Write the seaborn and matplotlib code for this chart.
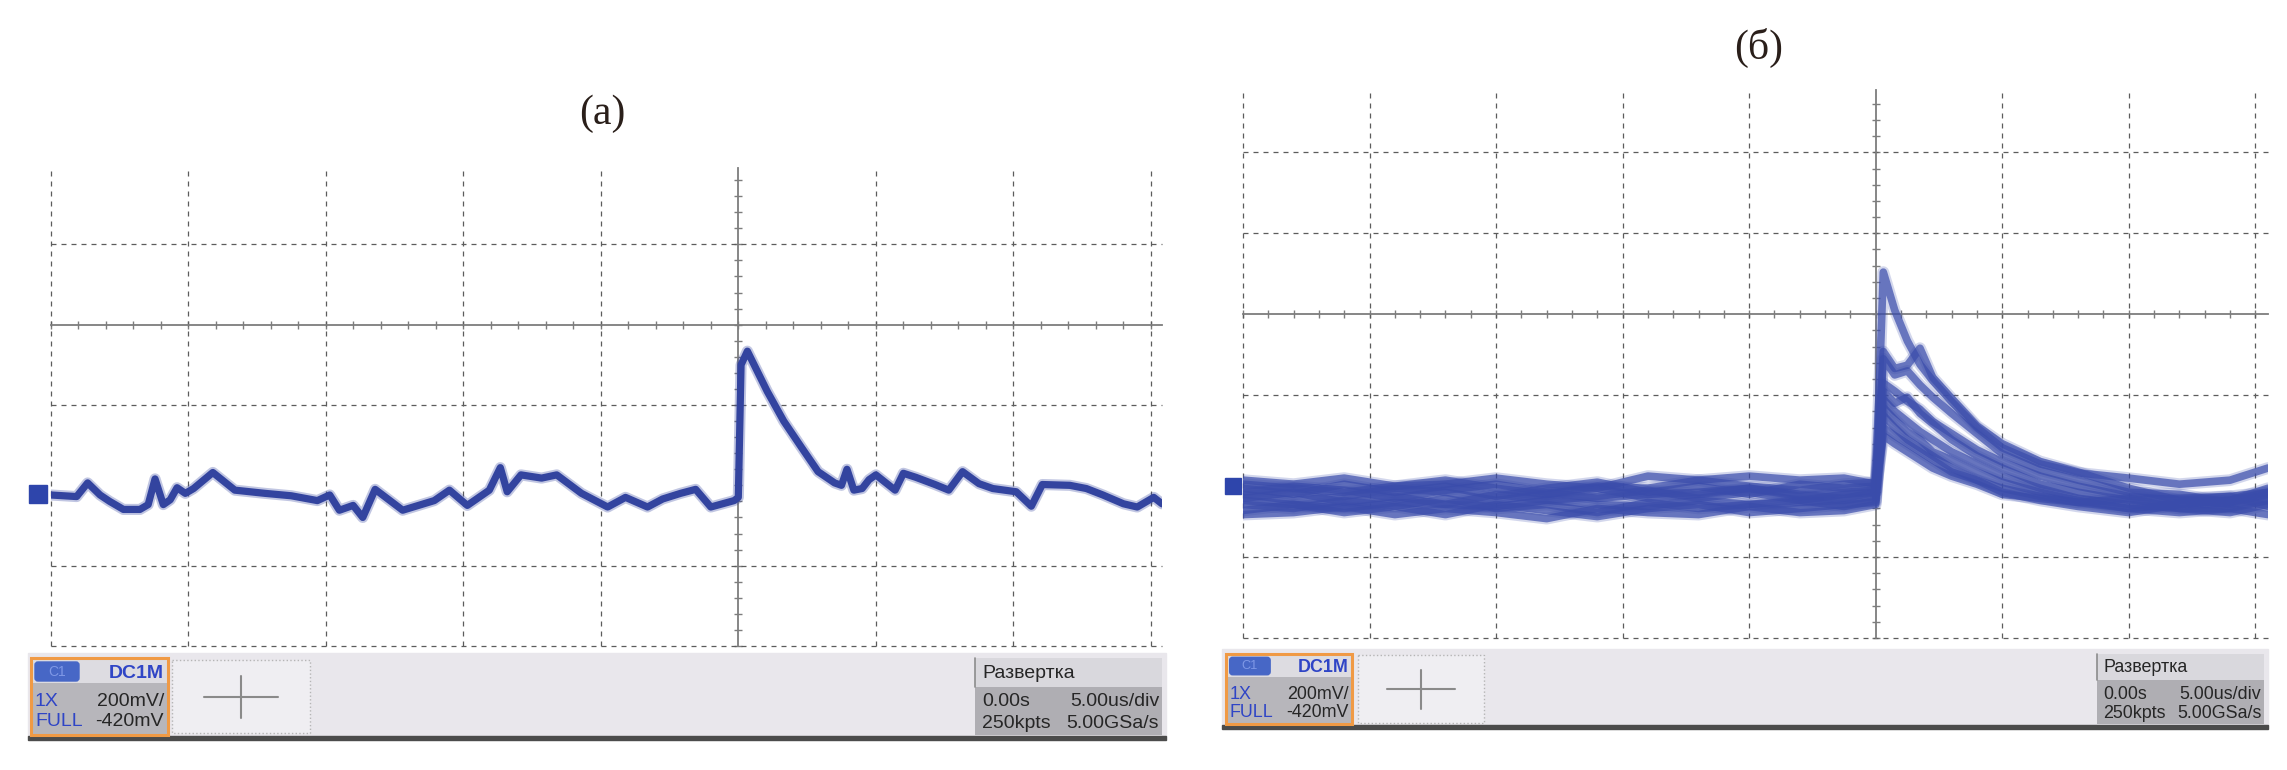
import numpy as np
import pandas as pd
import matplotlib.pyplot as plt
import seaborn as sns
from matplotlib.ticker import MultipleLocator
from matplotlib.patches import Rectangle, FancyBboxPatch

# Oscilloscope captures, 5 us/div, 200 mV/div, trigger at t = 0
# (a) single sweep: time in us, voltage in mV (relative to screen centre)
t_a = [-25.0, -24.05, -23.65, -23.2, -22.85, -22.35, -21.75, -21.45, -21.2, -20.9,
       -20.65, -20.4, -20.1, -19.8, -19.1, -18.3, -17.2, -16.25, -15.3, -14.85,
       -14.5, -14.0, -13.65, -13.2, -12.2, -11.05, -10.5, -9.85, -9.05, -8.65,
       -8.4, -7.9, -7.15, -6.6, -5.7, -4.75, -4.1, -3.3, -2.75, -2.1,
       -1.55, -1.0, -0.15, 0.0, 0.1, 0.33, 1.05, 1.65, 2.3, 2.9,
       3.5, 3.75, 3.95, 4.2, 4.5, 4.75, 5.0, 5.7, 6.0, 6.45,
       7.15, 7.65, 8.15, 8.75, 9.25, 10.1, 10.65, 11.05, 12.05, 12.65,
       13.25, 14.0, 14.5, 15.1, 15.4]
v_a = [-424, -428, -394, -424, -440, -460, -460, -448, -384, -448,
       -436, -406, -420, -408, -368, -412, -420, -426, -438, -424,
       -462, -450, -480, -410, -462, -438, -412, -450, -412, -356,
       -416, -374, -382, -374, -420, -454, -430, -454, -434, -420,
       -410, -454, -438, -430, -100, -66, -166, -240, -306, -366,
       -394, -400, -360, -412, -408, -386, -374, -412, -370, -380,
       -398, -412, -366, -396, -408, -416, -452, -398, -400, -408,
       -424, -446, -454, -430, -446]

# (б) ten overlaid sweeps on a common time base
t_b = [-25, -23, -21, -19, -17, -15, -13, -11, -9, -7, -5, -3, -1.25, 0.0,
       0.3, 0.75, 1.25, 1.75, 2.25, 3.0, 4.0, 5.0, 6.5, 8.0, 10.0, 12.0, 14.0, 15.5]
b_sweeps = [
    [-430, -445, -420, -440, -425, -450, -430, -415, -440, -425, -445, -420, -430, -425,
     104, 10, -66, -124, -164, -216, -280, -330, -370, -392, -405, -420, -410, -380],
    [-455, -440, -465, -450, -470, -445, -460, -450, -435, -455, -440, -460, -445, -440,
     -92, -134, -126, -84, -156, -208, -276, -320, -364, -390, -430, -460, -450, -440],
    [-470, -480, -460, -475, -455, -480, -470, -490, -465, -480, -470, -460, -475, -460,
     -110, -150, -140, -175, -205, -245, -295, -345, -385, -410, -440, -445, -465, -445],
    [-420, -430, -440, -425, -410, -430, -445, -425, -430, -410, -425, -435, -420, -415,
     -170, -190, -215, -235, -265, -295, -335, -365, -400, -425, -450, -460, -470, -455],
    [-485, -470, -490, -475, -495, -470, -485, -500, -480, -470, -490, -480, -470, -465,
     -190, -220, -205, -245, -270, -310, -350, -380, -420, -440, -460, -455, -450, -475],
    [-445, -460, -450, -430, -440, -460, -445, -430, -455, -445, -430, -445, -455, -440,
     -210, -240, -265, -290, -310, -340, -370, -400, -430, -455, -470, -480, -480, -495],
    [-495, -490, -475, -495, -480, -490, -505, -480, -490, -495, -475, -490, -485, -470,
     -230, -260, -290, -310, -340, -360, -390, -415, -440, -460, -480, -470, -460, -440],
    [-410, -420, -405, -425, -420, -405, -420, -430, -400, -410, -400, -410, -405, -420,
     -250, -280, -310, -330, -350, -380, -410, -430, -450, -465, -455, -480, -490, -470],
    [-460, -470, -480, -465, -470, -475, -460, -470, -475, -460, -470, -465, -460, -450,
     -280, -300, -320, -340, -360, -390, -410, -440, -460, -475, -490, -470, -460, -430],
    [-440, -425, -435, -455, -435, -420, -440, -455, -445, -440, -430, -450, -440, -435,
     -300, -320, -340, -360, -380, -400, -420, -445, -455, -465, -480, -490, -480, -460],
]

W, H = 2287, 770
TRACE = '#33449f'
GRID = '#5c5c5c'
AXC = '#7d7d7d'

sns.set_theme(style='white')
plt.rcParams['font.family'] = ['DejaVu Sans']

fig = plt.figure(figsize=(W / 100, H / 100), dpi=100)
fig.patch.set_facecolor('white')


def px_axes(x0, y0, x1, y1):
    # axes placed by pixel box (top-left origin)
    return fig.add_axes([x0 / W, (H - y1) / H, (x1 - x0) / W, (y1 - y0) / H])


def scope_grid(ax, xlim, ylim, hlines):
    ax.set_xlim(*xlim)
    ax.set_ylim(*ylim)
    ax.set_facecolor('none')
    for x in range(-25, 16, 5):
        if x != 0:
            ax.axvline(x, color=GRID, lw=0.9, ls=(0, (4, 4)), clip_on=False, zorder=1)
    for y in hlines:
        ax.axhline(y, color=GRID, lw=0.9, ls=(0, (4, 4)), clip_on=False, zorder=1)
    for side in ['top', 'right']:
        ax.spines[side].set_visible(False)
    for side in ['left', 'bottom']:
        ax.spines[side].set_position(('data', 0))
        ax.spines[side].set_color(AXC)
        ax.spines[side].set_linewidth(1.3)
        ax.spines[side].set_zorder(1.5)
    ax.xaxis.set_major_locator(MultipleLocator(5))
    ax.xaxis.set_minor_locator(MultipleLocator(1))
    ax.yaxis.set_major_locator(MultipleLocator(200))
    ax.yaxis.set_minor_locator(MultipleLocator(40))
    ax.tick_params(which='both', direction='inout', length=6, width=1, color=AXC,
                   bottom=True, left=True, top=False, right=False,
                   labelbottom=False, labelleft=False)
    ax.set_xlabel('')
    ax.set_ylabel('')


# ---- panel (a)
ax_a = px_axes(50.5, 168, 1162, 646)
sns.lineplot(x=t_a, y=v_a, sort=False, estimator=None, color=TRACE, lw=8,
             alpha=0.3, ax=ax_a, zorder=3)
sns.lineplot(x=t_a, y=v_a, sort=False, estimator=None, color=TRACE, lw=5.2,
             ax=ax_a, zorder=4)
scope_grid(ax_a, (-25, 15.4), (-800, 390), [-800, -600, -200, 200])
ax_a.plot([-25.47], [-422], marker='s', ms=13.5, color='#2e45ab', clip_on=False, zorder=5)

# ---- panel (б)
df_b = pd.DataFrame([(i, t, v) for i, s in enumerate(b_sweeps) for t, v in zip(t_b, s)],
                    columns=['sweep', 't', 'v'])
ax_b = px_axes(1243, 90, 2268, 638)
sns.lineplot(data=df_b, x='t', y='v', units='sweep', estimator=None, sort=False,
             color='#3a4cab', lw=8.5, alpha=0.22, ax=ax_b, zorder=3)
sns.lineplot(data=df_b, x='t', y='v', units='sweep', estimator=None, sort=False,
             color='#3a4cab', lw=5.5, alpha=0.7, ax=ax_b, zorder=4)
scope_grid(ax_b, (-25, 15.5), (-800, 554), [-800, -600, -200, 200, 400])
ax_b.plot([-25.4], [-424], marker='s', ms=11.5, color='#2e45ab', clip_on=False, zorder=5)

# ---- titles
fig.text(602 / W, 1 - 114 / H, '(a)', ha='center', va='center', fontsize=30,
         family=['Liberation Serif', 'DejaVu Serif'], color='#2a1f1a')
fig.text(1759 / W, 1 - 48 / H, '(б)', ha='center', va='center', fontsize=30,
         family=['Liberation Serif', 'DejaVu Serif'], color='#2a1f1a')

# ---- status bars (drawn in pixel coords on an overlay)
ov = fig.add_axes([0, 0, 1, 1])
ov.set_xlim(0, W)
ov.set_ylim(H, 0)
ov.axis('off')
ov.patch.set_visible(False)

NARROW = ['Liberation Sans', 'DejaVu Sans']
BLUE_TXT = '#2f45c6'
DARK_TXT = '#262626'


def status_bar(bx0, bx1, top, ob, cb, rb, s):
    # bx0..bx1 bar extent, ob/cb/rb = (x0, x1) of orange box, crosshair box, right box
    bot = top + 83 * s
    fs = 14 * s
    ov.add_patch(Rectangle((bx0, top), bx1 - bx0, bot - top, color='#e9e7ec', zorder=1))
    ov.add_patch(Rectangle((bx0, bot), bx1 - bx0, 4, color='#4b4b4b', zorder=2))
    y0 = top + 5 * s
    h = 77 * s
    # channel box
    x0, x1 = ob
    ov.add_patch(Rectangle((x0, y0), x1 - x0, h, facecolor='#b7b6bb', edgecolor='none', zorder=2))
    ov.add_patch(Rectangle((x0, y0), x1 - x0, 25 * s, facecolor='#dddce1', edgecolor='none', zorder=2))
    ov.add_patch(Rectangle((x0, y0), x1 - x0, h, facecolor='none', edgecolor='#f09a45', lw=2.2, zorder=4))
    ov.add_patch(FancyBboxPatch((x0 + 4 * s, y0 + 4 * s), 44 * s, 19 * s,
                                boxstyle='round,pad=0,rounding_size=3', color='#4767c6', zorder=3))
    ov.text(x0 + 26 * s, y0 + 14 * s, 'C1', color='#7f98e6', fontsize=10 * s, ha='center',
            va='center', family=NARROW, zorder=5)
    ov.text(x1 - 4 * s, y0 + 15 * s, 'DC1M', color=BLUE_TXT, fontsize=fs, ha='right',
            va='center', family=NARROW, weight='bold', zorder=5)
    ov.text(x0 + 4 * s, y0 + 44 * s, '1X', color=BLUE_TXT, fontsize=fs, ha='left',
            va='center', family=NARROW, zorder=5)
    ov.text(x1 - 4 * s, y0 + 44 * s, '200mV/', color=DARK_TXT, fontsize=fs, ha='right',
            va='center', family=NARROW, zorder=5)
    ov.text(x0 + 4 * s, y0 + 64 * s, 'FULL', color=BLUE_TXT, fontsize=fs, ha='left',
            va='center', family=NARROW, zorder=5)
    ov.text(x1 - 4 * s, y0 + 64 * s, '-420mV', color=DARK_TXT, fontsize=fs, ha='right',
            va='center', family=NARROW, zorder=5)
    # crosshair box
    x0, x1 = cb
    ov.add_patch(Rectangle((x0, y0 + 2 * s), x1 - x0, h - 4 * s, facecolor='#efeef2',
                           edgecolor='#b5b5b5', lw=1, ls=':', zorder=2))
    cx, cy = (x0 + x1) / 2, y0 + 39 * s
    ov.plot([cx - 37 * s, cx + 37 * s], [cy, cy], color='#8a8a8a', lw=1.5, zorder=3)
    ov.plot([cx, cx], [cy - 21 * s, cy + 21 * s], color='#8a8a8a', lw=1.5, zorder=3)
    # timebase box
    x0, x1 = rb
    ov.add_patch(Rectangle((x0, y0), x1 - x0, h, facecolor='#afaeb3', edgecolor='none', zorder=2))
    ov.add_patch(Rectangle((x0, y0), x1 - x0, 29 * s, facecolor='#d9d8dd', edgecolor='none', zorder=2))
    ov.plot([x0, x0], [y0, y0 + 29 * s], color='#8c8c8c', lw=1.2, zorder=3)
    ov.text(x0 + 7 * s, y0 + 15 * s, 'Развертка', color=DARK_TXT, fontsize=fs,
            ha='left', va='center', family=NARROW, zorder=5)
    ov.text(x0 + 7 * s, y0 + 44 * s, '0.00s', color=DARK_TXT, fontsize=fs,
            ha='left', va='center', family=NARROW, zorder=5)
    ov.text(x1 - 3 * s, y0 + 44 * s, '5.00us/div', color=DARK_TXT, fontsize=fs,
            ha='right', va='center', family=NARROW, zorder=5)
    ov.text(x0 + 7 * s, y0 + 65 * s, '250kpts', color=DARK_TXT, fontsize=fs,
            ha='left', va='center', family=NARROW, zorder=5)
    ov.text(x1 - 3 * s, y0 + 65 * s, '5.00GSa/s', color=DARK_TXT, fontsize=fs,
            ha='right', va='center', family=NARROW, zorder=5)


status_bar(28, 1166, 653, (31, 168), (172, 310), (975, 1162), 1.0)
status_bar(1222, 2268, 649, (1226, 1352), (1358, 1484), (2097, 2264), 0.92)

fig.savefig('out.png', dpi=100, facecolor='white')
